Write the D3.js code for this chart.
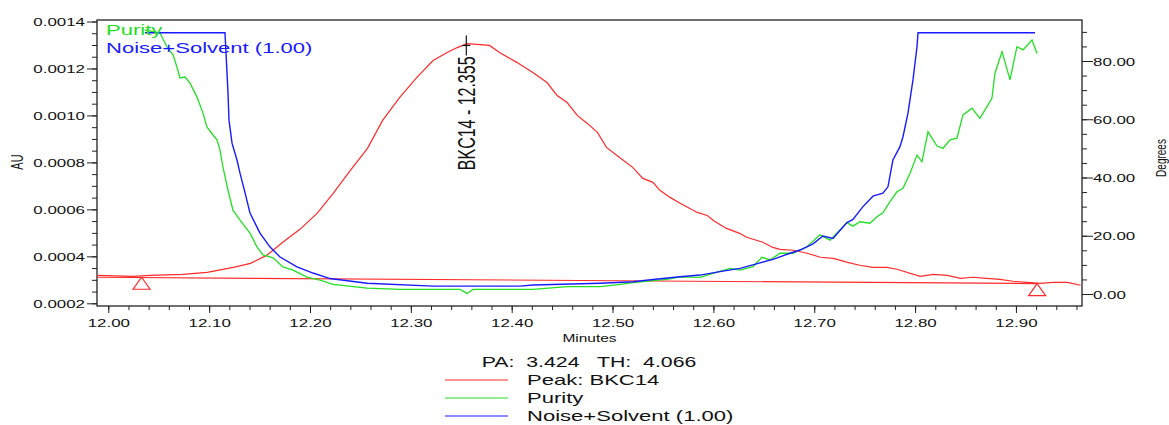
<!DOCTYPE html>
<html><head><meta charset="utf-8">
<script src="https://cdn.jsdelivr.net/npm/d3@7"></script>
<style>
body{margin:0;background:#fff}
text{font-family:"Liberation Sans",Arial,sans-serif;fill:#111}
</style>
</head><body>
<svg id="c" width="1169" height="425"></svg>
<script>
// ---------- data ----------
const peakTime = [11.989,12.0245,12.041,12.074,12.098,12.124,12.141,12.157,12.173,12.190,12.207,12.223,12.240,12.257,12.272,12.289,12.306,12.322,12.336,12.346,12.356,12.378,12.388,12.405,12.421,12.435,12.445,12.455,12.465,12.475,12.485,12.494,12.507,12.520,12.530,12.540,12.547,12.557,12.567,12.584,12.594,12.600,12.613,12.626,12.633,12.649,12.659,12.666,12.679,12.693,12.706,12.719,12.733,12.745,12.758,12.772,12.782,12.805,12.818,12.832,12.845,12.857,12.871,12.884,12.897,12.911,12.924,12.937,12.951,12.964];
const peakAU = [0.000319,0.000315,0.000319,0.000323,0.000332,0.000353,0.000370,0.000404,0.000460,0.000515,0.000583,0.000668,0.000766,0.000860,0.000979,0.001077,0.001162,0.001234,0.001268,0.001289,0.001306,0.001298,0.001268,0.001226,0.001183,0.001140,0.001085,0.001055,0.001000,0.000966,0.000928,0.000864,0.000821,0.000779,0.000732,0.000715,0.000681,0.000651,0.000626,0.000587,0.000574,0.000553,0.000519,0.000498,0.000481,0.000460,0.000438,0.000430,0.000426,0.000413,0.000396,0.000391,0.000374,0.000362,0.000353,0.000353,0.000345,0.000315,0.000323,0.000319,0.000306,0.000311,0.000306,0.000302,0.000294,0.000289,0.000285,0.000289,0.000289,0.000277];

const baselineTime = [11.989, 12.921];
const baselineAU = [0.000311, 0.000284];
const markerTime = [12.033, 12.921];
const markerAU = [0.000311, 0.000284];

const purityTime = [12.0364,12.0513,12.0582,12.0642,12.0681,12.0711,12.0761,12.0810,12.0880,12.0939,12.0979,12.1038,12.1078,12.1108,12.1137,12.1187,12.1236,12.1306,12.1405,12.1475,12.1534,12.1633,12.1732,12.1831,12.1970,12.2099,12.2228,12.2566,12.2893,12.3488,12.3557,12.3617,12.4212,12.4549,12.4876,12.5074,12.5203,12.5401,12.5540,12.5669,12.5867,12.5996,12.6165,12.6264,12.6393,12.6482,12.6561,12.6660,12.6789,12.6928,12.7057,12.7156,12.7255,12.7324,12.7384,12.7453,12.7552,12.7622,12.7681,12.7751,12.7820,12.7880,12.7949,12.8019,12.8068,12.8128,12.8217,12.8276,12.8346,12.8415,12.8475,12.8564,12.8643,12.8762,12.8792,12.8862,12.8941,12.9010,12.9070,12.9159,12.9209];
const purityDeg = [90.6,89.6,84.8,82.1,77.9,74.2,74.5,72.4,67.6,62.1,57.3,54.6,52.9,49.4,43.6,35.7,28.8,25.4,20.9,16.1,13.4,12.4,9.3,8.2,5.8,4.8,3.3,2.0,1.6,1.6,0.2,1.6,1.6,2.5,2.5,3.3,3.9,4.6,5.0,5.9,5.7,7.1,8.8,8.2,9.4,12.6,11.7,14.0,14.0,16.2,20.3,18.5,22.0,24.5,23.3,24.8,24.3,26.5,27.9,31.7,35.1,36.3,41.4,47.7,45.4,55.7,50.8,50.0,52.9,53.5,61.5,63.8,60.3,67.2,75.8,83.2,73.5,84.9,83.8,87.2,82.6];

const noiseTime = [12.0364,12.1157,12.1187,12.1197,12.1227,12.1276,12.1306,12.1356,12.1405,12.1504,12.1604,12.1703,12.1871,12.2030,12.2198,12.2566,12.3220,12.4083,12.4212,12.4876,12.5203,12.5401,12.5669,12.5867,12.6065,12.6264,12.6463,12.6591,12.6760,12.6859,12.6988,12.7087,12.7186,12.7324,12.7384,12.7483,12.7582,12.7681,12.7731,12.7780,12.7850,12.7880,12.7929,12.7979,12.8019,12.8029,12.9189];
const noiseDeg = [89.7,89.7,69.0,59.7,51.8,46.0,41.5,34.7,27.8,20.9,16.1,12.7,9.3,7.2,5.3,3.7,2.7,2.7,3.1,3.7,4.2,5.0,5.9,6.5,7.7,8.8,10.7,11.9,14.0,15.1,17.2,19.9,19.1,24.5,25.6,30.0,33.6,34.6,36.8,46.0,50.6,54.0,62.0,73.5,84.9,89.7,89.7];

const xTickValues = [12.00,12.10,12.20,12.30,12.40,12.50,12.60,12.70,12.80,12.90];
const xTickLabels = ["12.00","12.10","12.20","12.30","12.40","12.50","12.60","12.70","12.80","12.90"];
const auTickValues = [0.0002,0.0004,0.0006,0.0008,0.0010,0.0012,0.0014];
const auTickLabels = ["0.0002","0.0004","0.0006","0.0008","0.0010","0.0012","0.0014"];
const degTickValues = [0,20,40,60,80];
const degTickLabels = ["0.00","20.00","40.00","60.00","80.00"];

const peakName = "BKC14";
const peakApexTime = 12.355;
const peakApexAU = 0.001298;
const peakLabel = "BKC14 - 12.355";
const summaryText = "PA:  3.424   TH:  4.066";
const legendLabels = ["Peak: BKC14", "Purity", "Noise+Solvent (1.00)"];
const legendColors = ["#ff2a2a", "#22e022", "#1a1aff"];

// ---------- layout ----------
const L = 97, R = 1082, T = 20, B = 306;
const SX = 1.47; // horizontal text stretch

const svg = d3.select("#c");
const x = d3.scaleLinear().domain([11.9888, 12.9655]).range([L, R]);
const yAU = d3.scaleLinear().domain([0.0001885, 0.0014064]).range([B, T]);
const yDeg = d3.scaleLinear().domain([-4.12, 94.08]).range([B, T]);

const axisColor = "#222";

// minor ticks
const xMinor = d3.range(0, 49).map(i => 12 + i * 0.02).filter(v => v <= 12.965);
const auMinor = d3.range(0, 25).map(i => 0.0002 + i * 0.00005);
const degMinor = d3.range(0, 19).map(i => i * 5);

function styleAxis(g) {
  g.select(".domain").remove();
  g.selectAll("line").attr("stroke", axisColor);
}

svg.append("g").attr("transform", `translate(0,${B})`)
  .call(d3.axisBottom(x).tickValues(xMinor).tickSize(4).tickFormat(""))
  .call(styleAxis);
const gx = svg.append("g").attr("transform", `translate(0,${B})`)
  .call(d3.axisBottom(x).tickValues(xTickValues).tickSize(7)
    .tickFormat((d, i) => xTickLabels[i]))
  .call(styleAxis);
gx.selectAll("text").attr("font-size", 11.5).attr("fill", "#111")
  .attr("y", 0).attr("dy", 0)
  .attr("transform", `translate(0,21) scale(${SX},1)`);

svg.append("g").attr("transform", `translate(${L},0)`)
  .call(d3.axisLeft(yAU).tickValues(auMinor).tickSize(5).tickFormat(""))
  .call(styleAxis);
const gy = svg.append("g").attr("transform", `translate(${L},0)`)
  .call(d3.axisLeft(yAU).tickValues(auTickValues).tickSize(10)
    .tickFormat((d, i) => auTickLabels[i]))
  .call(styleAxis);
gy.selectAll("text").attr("font-size", 11.5).attr("fill", "#111")
  .attr("x", 0).attr("dy", "0.35em")
  .attr("transform", `translate(-12,0) scale(${SX},1)`);

svg.append("g").attr("transform", `translate(${R},0)`)
  .call(d3.axisRight(yDeg).tickValues(degMinor).tickSize(5).tickFormat(""))
  .call(styleAxis);
const gr = svg.append("g").attr("transform", `translate(${R},0)`)
  .call(d3.axisRight(yDeg).tickValues(degTickValues).tickSize(11)
    .tickFormat((d, i) => degTickLabels[i]))
  .call(styleAxis);
gr.selectAll("text").attr("font-size", 11.5).attr("fill", "#111")
  .attr("x", 0).attr("dy", "0.35em")
  .attr("transform", `translate(11,0) scale(${SX},1)`);

// frame
svg.append("rect").attr("x", L).attr("y", T).attr("width", R - L).attr("height", B - T)
  .attr("fill", "none").attr("stroke", axisColor).attr("stroke-width", 1.3);

// axis titles
svg.append("text").attr("transform", `translate(${(L + R) / 2},342) scale(${SX},1)`)
  .attr("text-anchor", "middle").attr("font-size", 10.5).text("Minutes");
svg.append("text").attr("transform", `translate(17,162) scale(${SX},1) rotate(-90)`)
  .attr("text-anchor", "middle").attr("dy", "0.35em").attr("font-size", 11).text("AU");
svg.append("text").attr("transform", `translate(1161,158) scale(${SX},1) rotate(-90)`)
  .attr("text-anchor", "middle").attr("dy", "0.35em").attr("font-size", 10).text("Degrees");

// clip
svg.append("clipPath").attr("id", "clip").append("rect")
  .attr("x", L).attr("y", T).attr("width", R - L).attr("height", B - T);
const plot = svg.append("g").attr("clip-path", "url(#clip)");

const lineAU = d3.line().x(d => x(d[0])).y(d => yAU(d[1]));
const lineDeg = d3.line().x(d => x(d[0])).y(d => yDeg(d[1]));

plot.append("path").datum(peakTime.map((t, i) => [t, peakAU[i]]))
  .attr("d", lineAU).attr("fill", "none").attr("stroke", legendColors[0]).attr("stroke-width", 1.2);
plot.append("path").datum(baselineTime.map((t, i) => [t, baselineAU[i]]))
  .attr("d", lineAU).attr("fill", "none").attr("stroke", legendColors[0]).attr("stroke-width", 1.2);
plot.append("path").datum(purityTime.map((t, i) => [t, purityDeg[i]]))
  .attr("d", lineDeg).attr("fill", "none").attr("stroke", legendColors[1]).attr("stroke-width", 1.3);
plot.append("path").datum(noiseTime.map((t, i) => [t, noiseDeg[i]]))
  .attr("d", lineDeg).attr("fill", "none").attr("stroke", legendColors[2]).attr("stroke-width", 1.4);

// peak start/end triangles
const tri = d3.symbol().type(d3.symbolTriangle).size(90);
plot.selectAll(".tri").data(markerTime.map((t, i) => [t, markerAU[i]])).join("path")
  .attr("d", "M0,0 L8.5,12 L-8.5,12 Z")
  .attr("transform", d => `translate(${x(d[0])},${yAU(d[1])})`)
  .attr("fill", "none").attr("stroke", "#ff2a2a").attr("stroke-width", 1.2);

// apex marker and label
const ax = x(peakApexTime), ay = yAU(peakApexAU);
svg.append("line").attr("x1", ax).attr("x2", ax).attr("y1", ay - 10).attr("y2", ay + 10)
  .attr("stroke", "#111").attr("stroke-width", 1.2);
svg.append("line").attr("x1", ax - 4).attr("x2", ax + 4).attr("y1", ay).attr("y2", ay)
  .attr("stroke", "#111").attr("stroke-width", 1.2);
svg.append("text").attr("transform", `translate(${ax},${ay + 11}) scale(1.45,1) rotate(-90)`)
  .attr("text-anchor", "end").attr("dy", "0.36em").attr("font-size", 16).text(peakLabel);

// in-plot legend
svg.append("text").attr("transform", `translate(106,35) scale(${SX},1)`)
  .attr("font-size", 15).style("fill", legendColors[1]).text(legendLabels[1]);
svg.append("text").attr("transform", `translate(106,53) scale(${SX},1)`)
  .attr("font-size", 15).style("fill", legendColors[2]).text(legendLabels[2]);

// bottom legend
svg.append("text").attr("transform", `translate(589,367) scale(${SX},1)`)
  .attr("text-anchor", "middle").attr("font-size", 14.5).attr("xml:space", "preserve")
  .style("white-space", "pre").text(summaryText);
const legY = [380, 398, 416];
legendLabels.forEach((lab, i) => {
  svg.append("line").attr("x1", 445).attr("x2", 508).attr("y1", legY[i]).attr("y2", legY[i])
    .attr("stroke", legendColors[i]).attr("stroke-width", 1.2);
  svg.append("text").attr("transform", `translate(527,${legY[i] + 5}) scale(${SX},1)`)
    .attr("font-size", 15).text(lab);
});
</script>
</body></html>
